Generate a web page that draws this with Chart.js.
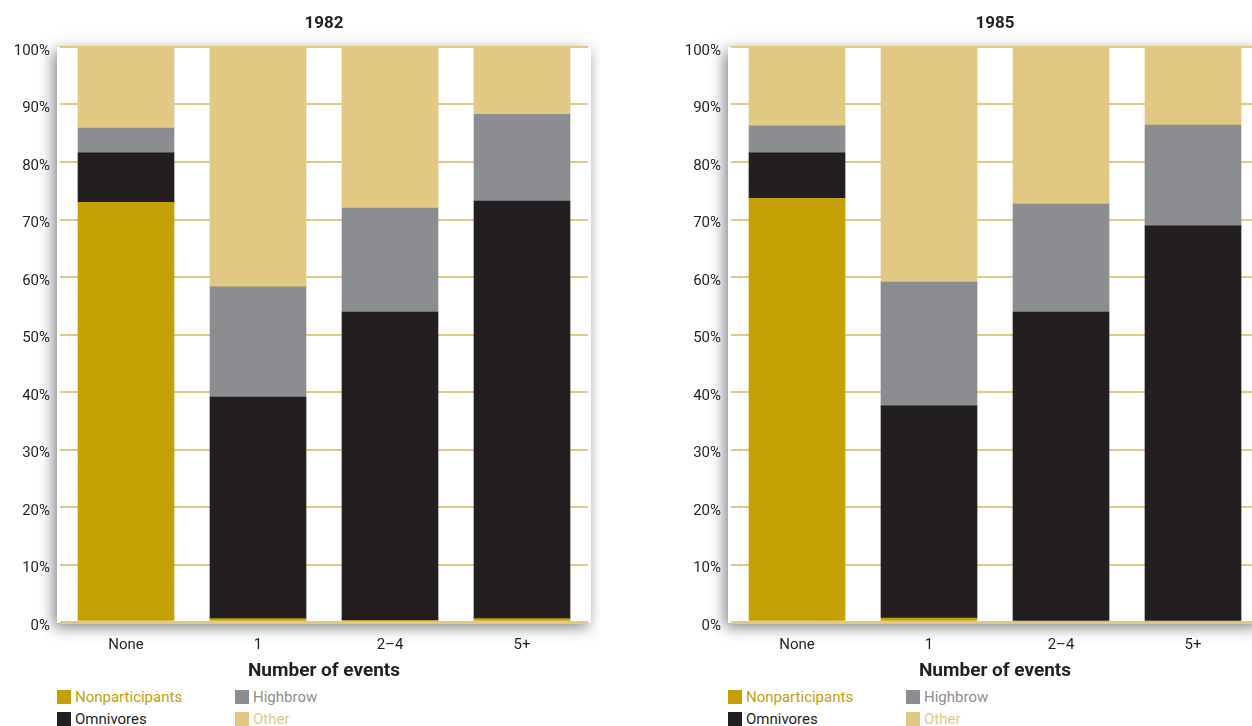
<!DOCTYPE html>
<html>
<head>
<meta charset="utf-8">
<script src="https://cdn.jsdelivr.net/npm/chart.js@4"></script>
<style>
  html, body { margin: 0; padding: 0; background: #fff; width: 1252px; height: 726px; overflow: hidden; position: relative; font-family: Roboto, 'Open Sans', sans-serif; }
  .wrap { position: absolute; top: 0; width: 600px; height: 684px; }
  .legend { position: absolute; top: 689px; width: 400px; height: 37px; font-size: 15px; }
  .item { position: absolute; height: 16px; line-height: 16px; white-space: nowrap; }
  .sw { display: inline-block; width: 14px; height: 14px; vertical-align: -2px; margin-right: 4px; }
</style>
</head>
<body>
<div class="wrap" style="left:0px"><canvas id="c1982" width="600" height="684"></canvas></div>
<div class="wrap" style="left:671px"><canvas id="c1985" width="600" height="684"></canvas></div>
<div class="legend" id="leg1982" style="left:57px"></div>
<div class="legend" id="leg1985" style="left:728px"></div>
<script>
// ---- data ----
const categories = ['None', '1', '2\u20134', '5+'];
const seriesNames = ['Nonparticipants', 'Omnivores', 'Highbrow', 'Other'];
const seriesColors = ['#C4A004', '#231F20', '#8C8D90', '#E1C983'];
const yTickValues = [0, 10, 20, 30, 40, 50, 60, 70, 80, 90, 100];

// 1982 (percent of each category)
const nonparticipants1982 = [73.0, 0.6, 0.3, 0.6];
const omnivores1982       = [8.6, 38.5, 53.6, 72.6];
const highbrow1982        = [4.3, 19.2, 18.1, 15.1];
const other1982           = [14.1, 41.7, 28.0, 11.7];

// 1985
const nonparticipants1985 = [73.7, 0.7, 0.0, 0.0];
const omnivores1985       = [7.9, 36.9, 53.9, 68.9];
const highbrow1985        = [4.7, 21.5, 18.8, 17.5];
const other1985           = [13.7, 40.9, 27.3, 13.6];

const FONT = "Roboto, 'Open Sans', sans-serif";
const TEXT = '#231F20';
const GRID = '#E1C983';

const plotShadow = {
  id: 'plotShadow',
  beforeDraw(chart) {
    const a = chart.chartArea, ctx = chart.ctx;
    ctx.save();
    ctx.shadowColor = 'rgba(0,0,0,0.5)';
    ctx.shadowBlur = 14;
    ctx.shadowOffsetX = -3;
    ctx.shadowOffsetY = 4;
    ctx.fillStyle = '#fff';
    ctx.fillRect(a.left - 3, a.top, a.right - a.left + 6, a.bottom - a.top + 1);
    ctx.restore();
  }
};

function makeChart(id, title, series) {
  const datasets = series.map((vals, i) => ({
    label: seriesNames[i],
    data: vals,
    backgroundColor: seriesColors[i],
    borderWidth: 0,
    barThickness: 96,
    stack: 's'
  }));
  return new Chart(document.getElementById(id), {
    type: 'bar',
    data: { labels: categories, datasets },
    plugins: [plotShadow],
    options: {
      responsive: false,
      animation: false,
      devicePixelRatio: 1,
      layout: { padding: { left: 0, right: 12, top: 0, bottom: 0 } },
      plugins: {
        legend: { display: false },
        tooltip: { enabled: false },
        title: {
          display: true, text: title, color: TEXT, fullSize: false,
          font: { family: FONT, size: 17, weight: 'bold', lineHeight: 1.2 },
          padding: { top: 14, bottom: 12.6 }
        }
      },
      scales: {
        x: {
          stacked: true,
          grid: { display: false, drawTicks: false },
          border: { display: false },
          ticks: { color: TEXT, font: { family: FONT, size: 15 }, padding: 14 },
          title: {
            display: true, text: 'Number of events', color: TEXT,
            font: { family: FONT, size: 19, weight: 'bold', lineHeight: 1.2 },
            padding: { top: 0, bottom: 1.6 }
          },
          afterFit(s) { s.height = 62; }
        },
        y: {
          stacked: true, min: 0, max: 100,
          afterBuildTicks(s) { s.ticks = yTickValues.map(v => ({ value: v })); },
          grid: {
            color: GRID, drawTicks: false,
            lineWidth: c => (c.tick && c.tick.value === 0 ? 3 : 2)
          },
          border: { display: false },
          ticks: {
            color: TEXT, font: { family: FONT, size: 15 }, padding: 10, labelOffset: 4,
            callback: v => v + '%'
          },
          afterFit(s) { s.width = 60; }
        }
      }
    }
  });
}

makeChart('c1982', '1982', [nonparticipants1982, omnivores1982, highbrow1982, other1982]);
makeChart('c1985', '1985', [nonparticipants1985, omnivores1985, highbrow1985, other1985]);

function makeLegend(id) {
  const el = document.getElementById(id);
  const pos = [[0, 0], [0, 22], [178, 0], [178, 22]]; // Nonpart, Omnivores, Highbrow, Other
  seriesNames.forEach((n, i) => {
    const d = document.createElement('div');
    d.className = 'item';
    d.style.left = pos[i][0] + 'px';
    d.style.top = pos[i][1] + 'px';
    d.style.color = seriesColors[i];
    d.innerHTML = '<span class="sw" style="background:' + seriesColors[i] + '"></span>' + n;
    el.appendChild(d);
  });
}
makeLegend('leg1982');
makeLegend('leg1985');
</script>
</body>
</html>
